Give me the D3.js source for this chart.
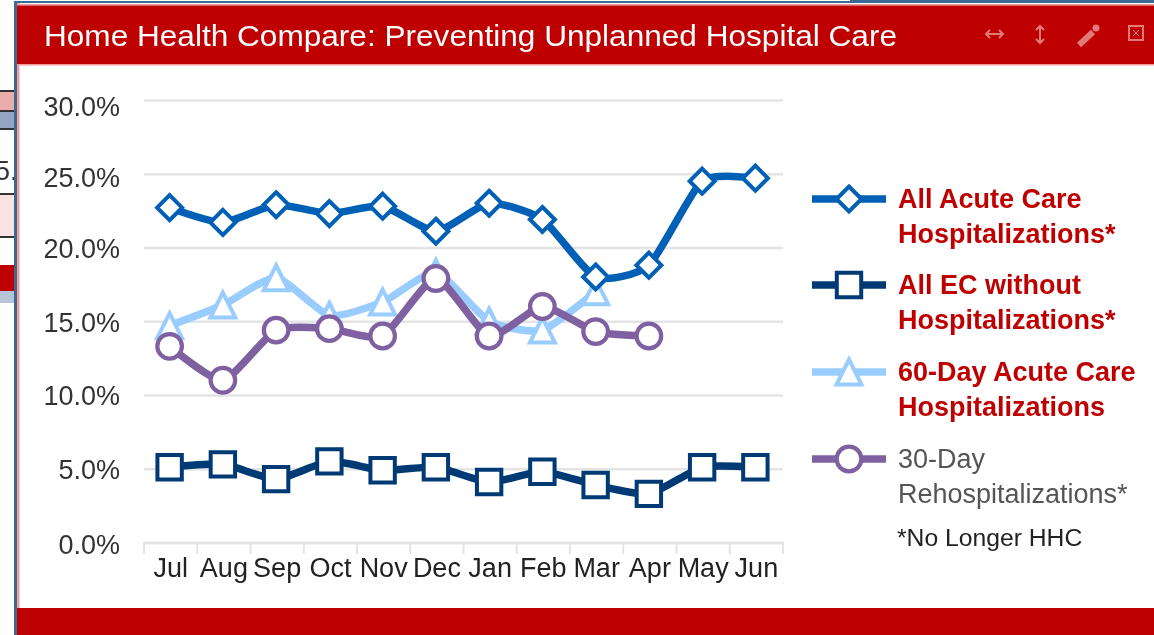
<!DOCTYPE html>
<html><head><meta charset="utf-8">
<script src="https://cdn.jsdelivr.net/npm/d3@7/dist/d3.min.js"></script>
<style>html,body{margin:0;padding:0;background:#fff;overflow:hidden}svg{display:block;filter:blur(0.45px)}text{font-family:"Liberation Sans",Arial,sans-serif}</style>
</head><body><svg id="c" width="1154" height="635"></svg>
<script>
const title = "Home Health Compare: Preventing Unplanned Hospital Care";
const months = ["Jul","Aug","Sep","Oct","Nov","Dec","Jan","Feb","Mar","Apr","May","Jun"];
const yTicks = [0,5,10,15,20,25,30];
const allAcute = [22.7,21.7,22.9,22.3,22.8,21.1,23.0,21.9,18.0,18.8,24.5,24.7];
const allEC = [5.1,5.3,4.3,5.5,4.9,5.1,4.1,4.8,3.9,3.3,5.1,5.1];
const acute60 = [14.7,16.1,17.95,15.4,16.3,18.3,15.0,14.4,17.0];
const rehosp30 = [13.3,11.0,14.4,14.5,14.0,17.9,14.0,16.0,14.3,14.0];
const seriesList = [
 {lines:["All Acute Care","Hospitalizations*"],values:allAcute,color:"#0060b6",sym:"diamond",bold:true},
 {lines:["All EC without","Hospitalizations*"],values:allEC,color:"#003a74",sym:"square",bold:true},
 {lines:["60-Day Acute Care","Hospitalizations"],values:acute60,color:"#99ccff",sym:"triangle",bold:true},
 {lines:["30-Day","Rehospitalizations*"],values:rehosp30,color:"#7f60a0",sym:"circle",bold:false}
];
const svg = d3.select("#c");
const RED="#bf0000";
// surrounding page chrome
const chrome = svg.append("g");
[[0,90,15,2,"#333"],[0,92,15,18,"#e9aeab"],[0,110,15,2,"#333"],[0,112,15,16,"#93a5c0"],[0,128,15,2,"#333"],[0,193,15,2,"#333"],[0,195,15,41,"#f8e2e2"],[0,236,15,2,"#333"],[0,265,15,26,RED],[0,291,15,12,"#b5c4d6"]]
 .forEach(r=>chrome.append("rect").attr("x",r[0]).attr("y",r[1]).attr("width",r[2]).attr("height",r[3]).attr("fill",r[4]));
chrome.append("text").attr("x",-5).attr("y",180).attr("font-size",27).attr("fill","#333").text("5.0");
chrome.append("rect").attr("x",14).attr("y",1).attr("width",1140).attr("height",2).attr("fill","#3a6a94");
chrome.append("rect").attr("x",850).attr("y",0).attr("width",304).attr("height",2).attr("fill","#3a6a94");
chrome.append("rect").attr("x",14).attr("y",1).attr("width",3).attr("height",634).attr("fill","#3a6a94");
chrome.append("rect").attr("x",17).attr("y",3).attr("width",1137).attr("height",632).attr("fill","#fff");
chrome.append("rect").attr("x",17).attr("y",3).attr("width",2.5).attr("height",632).attr("fill","#f39a9a");
chrome.append("rect").attr("x",17).attr("y",4).attr("width",1137).attr("height",1.5).attr("fill","#ee9a9a");
chrome.append("rect").attr("x",17).attr("y",5.5).attr("width",1137).attr("height",59).attr("fill",RED);
chrome.append("rect").attr("x",17).attr("y",64).attr("width",1137).attr("height",1.5).attr("fill","#f39a9a");
chrome.append("rect").attr("x",17).attr("y",608).attr("width",1137).attr("height",27).attr("fill",RED);
svg.append("text").attr("x",44).attr("y",46).attr("fill","#fff").attr("font-size",29).attr("textLength",853).attr("lengthAdjust","spacingAndGlyphs").text(title);
// header icons
const ic = svg.append("g").attr("stroke","#e27a7a").attr("fill","none").attr("stroke-width",2);
ic.append("path").attr("d","M987 34h15M990 30l-4 4 4 4M999 30l4 4-4 4");
ic.append("path").attr("d","M1040 27v15M1036 30l4-4 4 4M1036 39l4 4 4-4");
ic.append("path").attr("d","M1079 45l14-13").attr("stroke-width",6);
ic.append("circle").attr("cx",1096).attr("cy",28).attr("r",2.5).attr("fill","#e27a7a");
ic.append("rect").attr("x",1129).attr("y",26).attr("width",14).attr("height",14);
ic.append("path").attr("d","M1133 30l6 6M1139 30l-6 6").attr("stroke-width",1);
// scales
const x = d3.scaleBand().domain(months).range([144,783]);
const y = d3.scaleLinear().domain([0,30]).range([542.5,100]);
const cx = m => x(m)+x.bandwidth()/2-1;
const GRID="#e4e4e4";
const labelNudge = {0:1,5:-1,10:-1,15:0,20:0,25:2,30:5};
const gy = svg.append("g").attr("transform","translate(144,0)")
 .call(d3.axisLeft(y).tickValues(yTicks).tickSize(-639).tickPadding(24).tickFormat(d=>d3.format(".1f")(d)+"%"));
gy.select(".domain").remove();
gy.selectAll("line").attr("stroke",GRID).attr("stroke-width",2.5);
gy.selectAll("text").attr("font-size",27).attr("fill","#333").attr("font-family",'"Liberation Sans"').attr("dy","0.38em");
gy.selectAll("text").attr("y",d=>labelNudge[d]);
const gx = svg.append("g").attr("transform","translate(0,542.5)")
 .call(d3.axisBottom(x).tickSize(0).tickPadding(15));
gx.select(".domain").attr("stroke",GRID).attr("stroke-width",2.5);
gx.selectAll("text").attr("font-size",27).attr("fill","#222").attr("font-family",'"Liberation Sans"');
// category boundary ticks
svg.append("g").selectAll("line").data(d3.range(13)).join("line")
 .attr("x1",i=>144+i*x.step()).attr("x2",i=>144+i*x.step()).attr("y1",542.5).attr("y2",554).attr("stroke",GRID).attr("stroke-width",2);
// series
const line = d3.line().x((d,i)=>cx(months[i])).y(d=>y(d)).curve(d3.curveCardinal.tension(0.4));
const symPath = {
 diamond:s=>`M0 ${-s}L${s} 0L0 ${s}L${-s} 0Z`,
 square:s=>`M${-s} ${-s}H${s}V${s}H${-s}Z`,
 triangle:s=>`M0 ${-s}L${s} ${s}H${-s}Z`
};
function marker(g,s){
 if(s.sym==="circle") g.append("circle").attr("r",12.3).attr("fill","#fff").attr("stroke",s.color).attr("stroke-width",4.2);
 else g.append("path").attr("d",symPath[s.sym](s.sym==="square"?12.2:12.5)).attr("fill","#fff").attr("stroke",s.color).attr("stroke-width",4).attr("stroke-linejoin","miter");
}
[seriesList[2],seriesList[0],seriesList[1],seriesList[3]].forEach(s=>{
 const g=svg.append("g");
 g.append("path").attr("d",line(s.values)).attr("fill","none").attr("stroke",s.color).attr("stroke-width",7.5);
 s.values.forEach((v,i)=>{marker(g.append("g").attr("transform",`translate(${cx(months[i])},${y(v)})`),s);});
});
// legend
const legY=[199,285,372,459];
seriesList.forEach((s,i)=>{
 const g=svg.append("g").attr("transform",`translate(812,${legY[i]})`);
 g.append("line").attr("x1",0).attr("x2",74).attr("y1",0).attr("y2",0).attr("stroke",s.color).attr("stroke-width",7.5);
 marker(g.append("g").attr("transform","translate(37,0)"),s);
 s.lines.forEach((t,j)=>{
  g.append("text").attr("x",86).attr("y",9+j*34.5).attr("font-size",27).attr("font-weight",s.bold?"700":"400")
   .attr("fill",s.bold?RED:"#555").text(t);
 });
});
svg.append("text").attr("x",897).attr("y",546).attr("font-size",24.7).attr("fill","#222").text("*No Longer HHC");
</script></body></html>
